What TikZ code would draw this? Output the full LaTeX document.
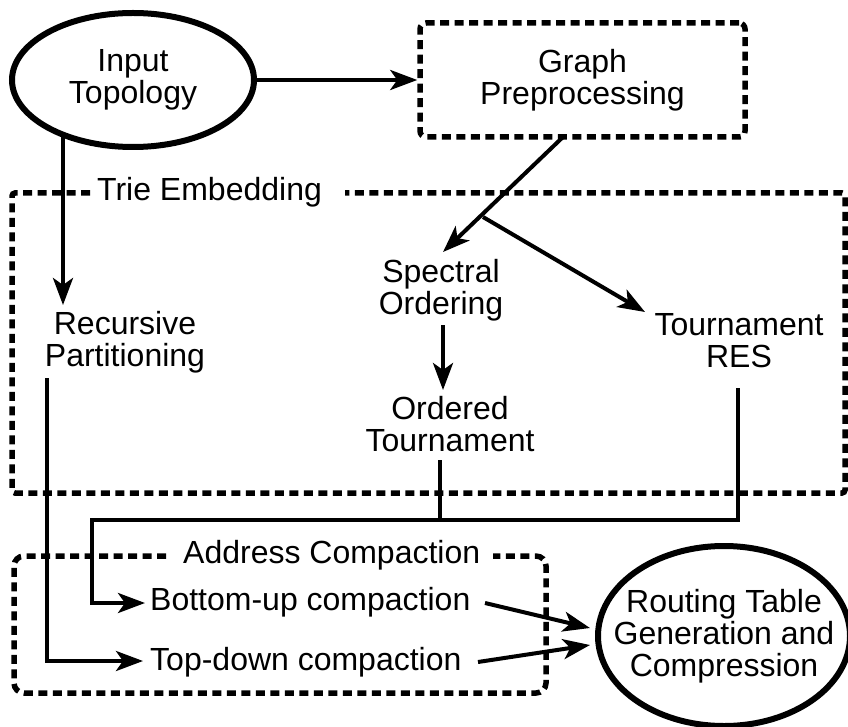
\documentclass[tikz,border=0pt]{standalone}
\usepackage{fontspec}
\setmainfont{Liberation Sans}
\usetikzlibrary{arrows.meta,shapes.geometric}
\begin{document}
\begin{tikzpicture}[x=1pt,y=-1pt,
  txt/.style={font=\fontsize{32}{32}\selectfont, align=center, inner sep=0pt},
  oval/.style={txt, ellipse, draw, line width=6pt},
  conn/.style={line width=4pt},
  arr/.style={conn, -{Stealth[length=27pt,width=20pt,inset=7pt]}},
  dashbox/.style={line width=5.5pt, dash pattern=on 9pt off 5.5pt}]
\useasboundingbox (0,0) rectangle (848,727);

% group frames
\draw[dashbox, rounded corners=3pt]
  (90,193) -- (12,193) -- (12,493) -- (845,493) -- (845,193) -- (345,193);
\node[txt, anchor=base west] (trie) at (97,201) {Trie Embedding};
\draw[dashbox, rounded corners=10pt]
  (166,556) -- (14,556) -- (14,693) -- (546,693) -- (546,556) -- (493,556);
\node[txt, anchor=base west] (addr) at (183,563) {Address Compaction};

% stages
\node[oval, minimum width=242pt, minimum height=134pt] (inp) at (133,80) {Input\\Topology};
\node[txt, draw, dashbox, rounded corners=6pt, minimum width=325pt, minimum height=114pt]
  (gp) at (582.5,80) {Graph\\Preprocessing};
\node[txt] (rp) at (125,342) {Recursive\\Partitioning};
\node[txt] (so) at (441,290) {Spectral\\Ordering};
\node[txt] (ot) at (450,424) {Ordered\\Tournament};
\node[txt] (tr) at (739,341) {Tournament\\RES};
\node[txt, anchor=base west] (bu) at (150,610) {Bottom-up compaction};
\node[txt, anchor=base west] (td) at (150,670) {Top-down compaction};
\node[oval, inner xsep=-22pt, minimum width=252pt, minimum height=180pt]
  (rt) at (724,636) {Routing Table\\Generation and\\Compression};

% connector end points
\coordinate (inpS) at (63,135);
\coordinate (rpN) at (63,305);
\coordinate (gpS) at (563,137);
\coordinate (soN) at (443,252);
\coordinate (fork) at (483,217);
\coordinate (trN) at (645,312);
\coordinate (soS) at (443,325);
\coordinate (otN) at (443,390);
\coordinate (otS) at (440,460);
\coordinate (trS) at (738,388);
\coordinate (rpS) at (47,378);
\coordinate (buW) at (145,603);
\coordinate (tdW) at (143,661);
\coordinate (buE) at (485,603);
\coordinate (tdE) at (478,662);
\coordinate (rtA) at (590,628);
\coordinate (rtB) at (590,645);

% connectors
\draw[arr] (inp.east) -- (gp.west);
\draw[arr] (inpS) -- (rpN);
\draw[arr] (gpS) -- (soN);
\draw[arr] (fork) -- (trN);
\draw[arr] (soS) -- (otN);
\draw[conn] (otS) -- (otS |- 0,520);
\draw[arr] (trS) -- (738,520) -- (92,520) -- (92,603) -- (buW);
\draw[arr] (rpS) -- (47,661) -- (tdW);
\draw[arr] (buE) -- (rtA);
\draw[arr] (tdE) -- (rtB);
\end{tikzpicture}
\end{document}
